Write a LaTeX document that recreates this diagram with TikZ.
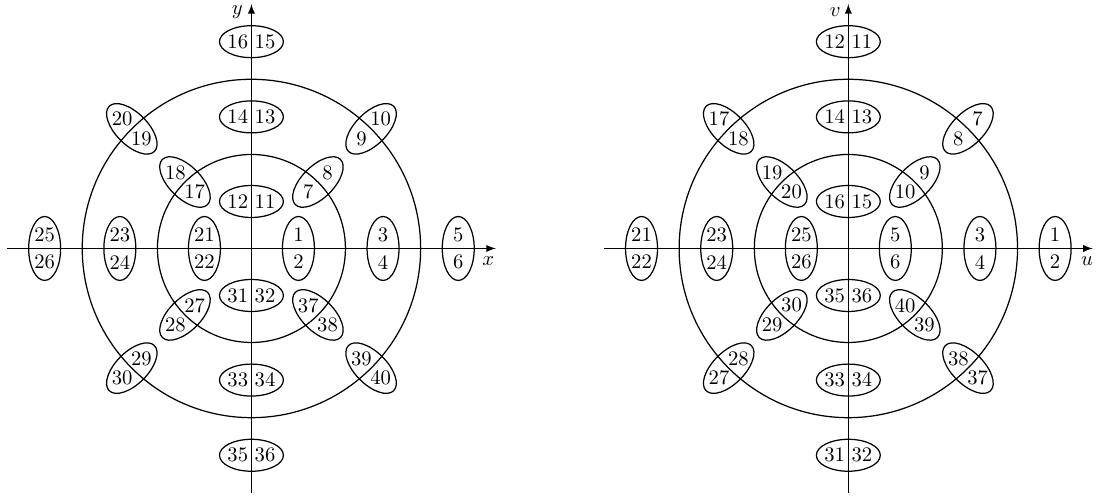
\documentclass[tikz,border=0pt]{standalone}
\usepackage{amsmath}
\usetikzlibrary{arrows}

% one ellipse with its two numbers: centre, angle, outer number, inner number
\newcommand{\pairell}[4]{%
    \begin{scope}[shift={#1},rotate=#2]
        \draw (0,0) ellipse (0.68 and 0.34);
        \node (\pfx#3) at (0.29,0) {#3};
        \node (\pfx#4) at (-0.29,0) {#4};
    \end{scope}}

\begin{document}
\begin{tikzpicture}[x=0.8cm,y=0.8cm,semithick,>=latex]
    \useasboundingbox (-5.35,-5.266) rectangle (18.012,5.287);

    % left: x, y
    \begin{scope}
        \def\pfx{a}
        \coordinate (aW) at (-5.2,0);
        \coordinate (aE) at (5.2,0);
        \coordinate (aS) at (0,-5.2);
        \coordinate (aN) at (0,5.2);
        \draw[->] (aW) -- (aE);
        \draw[->] (aS) -- (aN);
        \node (ax) at (5.04,-0.26) {$x$};
        \node (ay) at (-0.30,5.02) {$y$};

        \draw
            (0,0) circle (2)
            (0,0) circle (3.6)
            ;

        \pairell{(1,0)}{90}{1}{2}
        \pairell{(2.8,0)}{90}{3}{4}
        \pairell{(4.4,0)}{90}{5}{6}
        \pairell{(-1,0)}{90}{21}{22}
        \pairell{(-2.8,0)}{90}{23}{24}
        \pairell{(-4.4,0)}{90}{25}{26}

        \pairell{(0,1)}{180}{12}{11}
        \pairell{(0,2.8)}{180}{14}{13}
        \pairell{(0,4.4)}{180}{16}{15}
        \pairell{(0,-1)}{180}{31}{32}
        \pairell{(0,-2.8)}{180}{33}{34}
        \pairell{(0,-4.4)}{180}{35}{36}

        \pairell{(45:2)}{45}{8}{7}
        \pairell{(45:3.6)}{45}{10}{9}
        \pairell{(135:2)}{135}{18}{17}
        \pairell{(135:3.6)}{135}{20}{19}
        \pairell{(225:2)}{225}{28}{27}
        \pairell{(225:3.6)}{225}{30}{29}
        \pairell{(315:2)}{315}{38}{37}
        \pairell{(315:3.6)}{315}{40}{39}
    \end{scope}

    % right: u, v
    \begin{scope}[shift={(12.70,0)}]
        \def\pfx{b}
        \coordinate (bW) at (-5.2,0);
        \coordinate (bE) at (5.2,0);
        \coordinate (bS) at (0,-5.2);
        \coordinate (bN) at (0,5.2);
        \draw[->] (bW) -- (bE);
        \draw[->] (bS) -- (bN);
        \node (bu) at (5.08,-0.26) {$u$};
        \node (bv) at (-0.28,5.02) {$v$};

        \draw
            (0,0) circle (2)
            (0,0) circle (3.6)
            ;

        \pairell{(1,0)}{90}{5}{6}
        \pairell{(2.8,0)}{90}{3}{4}
        \pairell{(4.4,0)}{90}{1}{2}
        \pairell{(-1,0)}{90}{25}{26}
        \pairell{(-2.8,0)}{90}{23}{24}
        \pairell{(-4.4,0)}{90}{21}{22}

        \pairell{(0,1)}{180}{16}{15}
        \pairell{(0,2.8)}{180}{14}{13}
        \pairell{(0,4.4)}{180}{12}{11}
        \pairell{(0,-1)}{180}{35}{36}
        \pairell{(0,-2.8)}{180}{33}{34}
        \pairell{(0,-4.4)}{180}{31}{32}

        \pairell{(45:2)}{45}{9}{10}
        \pairell{(45:3.6)}{45}{7}{8}
        \pairell{(135:2)}{135}{19}{20}
        \pairell{(135:3.6)}{135}{17}{18}
        \pairell{(225:2)}{225}{29}{30}
        \pairell{(225:3.6)}{225}{27}{28}
        \pairell{(315:2)}{315}{39}{40}
        \pairell{(315:3.6)}{315}{37}{38}
    \end{scope}
\end{tikzpicture}
\end{document}
